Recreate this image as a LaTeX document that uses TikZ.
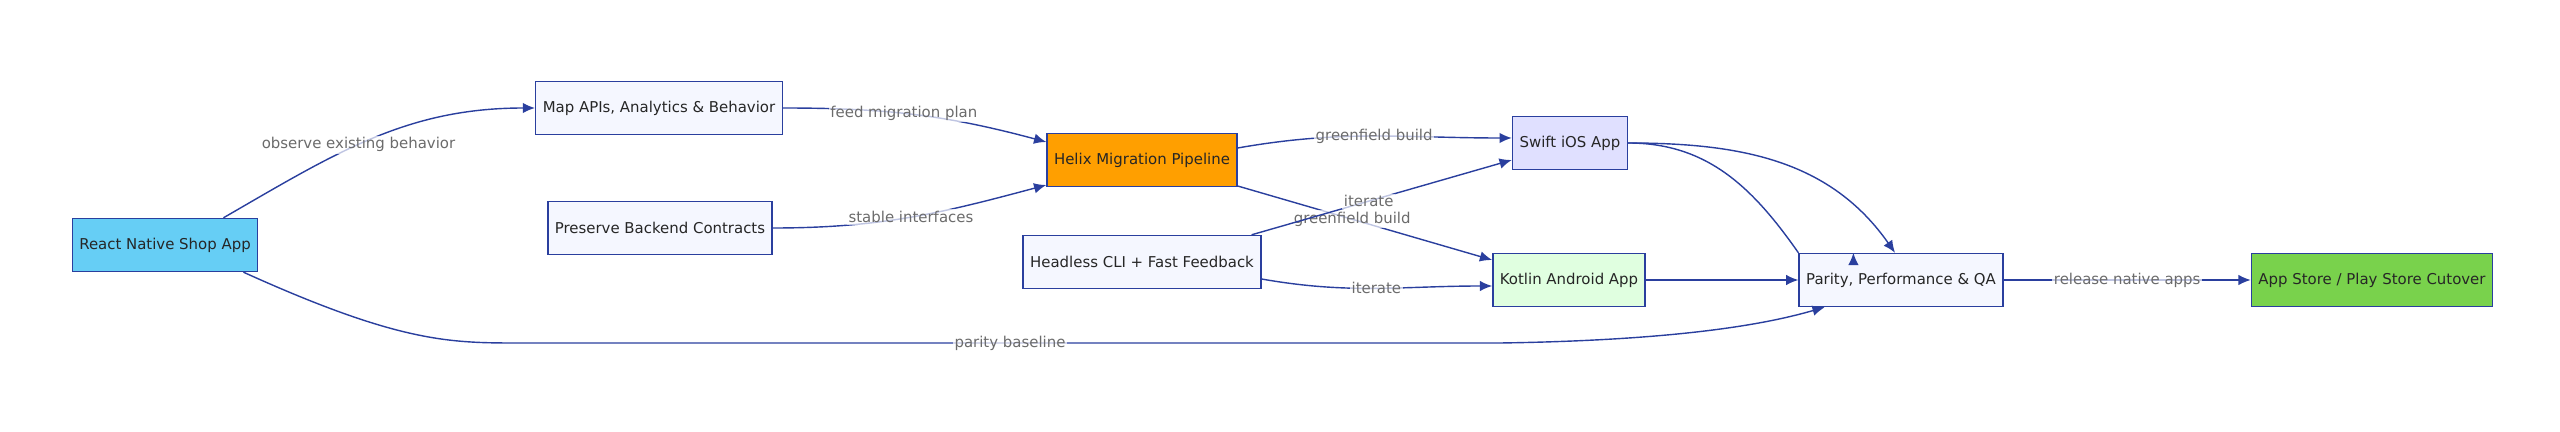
\documentclass[tikz,border=0pt]{standalone}
\usepackage{fontspec}
\setmainfont{DejaVu Sans}
\usetikzlibrary{arrows.meta}
\definecolor{edgeblue}{HTML}{2A3F9E}
\definecolor{boxfill}{HTML}{F5F7FF}
\definecolor{labelgray}{HTML}{6B6B6B}
\begin{document}
\begin{tikzpicture}
[
x=0.02cm, y=-0.02cm,
Step/.style={rectangle, draw=edgeblue, fill=boxfill, thick, minimum height=1.06cm, inner xsep=4pt, font=\fontsize{8.5}{10}\selectfont, text=black!85},
Link/.style={-{Latex[length=7pt,width=6pt]}, draw=edgeblue, thick},
Tag/.style={fill=white, fill opacity=0.7, text opacity=1, inner sep=1pt, text=labelgray, font=\fontsize{8.5}{10}\selectfont},
]
\useasboundingbox (0,0) rectangle (2560,432);

% nodes
\node[Step, fill=cyan!60!white, minimum width=3.3cm] (react) at (165,245) {React Native Shop App};
\node[Step, minimum width=4.26cm] (map) at (659,108) {Map APIs, Analytics \& Behavior};
\node[Step, minimum width=3.96cm] (backend) at (660,228) {Preserve Backend Contracts};
\node[Step, fill=orange!75!yellow, minimum width=3.44cm] (helix) at (1142,160) {Helix Migration Pipeline};
\node[Step, minimum width=4.08cm] (cli) at (1142,262) {Headless CLI + Fast Feedback};
\node[Step, fill=blue!12, minimum width=2.3cm] (swift) at (1570,143) {Swift iOS App};
\node[Step, fill=green!12, minimum width=2.88cm] (kotlin) at (1569,280) {Kotlin Android App};
\node[Step, minimum width=3.66cm] (parity) at (1901,280) {Parity, Performance \& QA};
\node[Step, fill=green!50!olive!70!white, minimum width=4.2cm] (store) at (2372,280) {App Store / Play Store Cutover};

% connectors
\draw[Link] (react.north east) ++(-35,0) to[out=30,in=180] node[Tag, pos=0.45] {observe existing behavior} (map.west);
\draw[Link] (map.east) to[out=0,in=165] node[Tag, pos=0.45] {feed migration plan} (helix.west |- 0,142);
\draw[Link] (backend.east) to[out=0,in=195] node[Tag, pos=0.5] {stable interfaces} (helix.west |- 0,185);
\draw[Link] (helix.east |- 0,148) to[out=10,in=180] node[Tag, pos=0.5] {greenfield build} (swift.west |- 0,138);
\draw[Link] (helix.east |- 0,186) -- node[Tag, pos=0.45] {greenfield build} (kotlin.west |- 0,260);
\draw[Link] (cli.north east) ++(-10,0) -- node[Tag, pos=0.45] {iterate} (swift.west |- 0,160);
\draw[Link] (cli.east |- 0,279) to[out=-10,in=180] node[Tag, pos=0.5] {iterate} (kotlin.west |- 0,286);
\draw[Link] (swift.east) to[out=0,in=125] (parity.north west) ++(55,0);
\draw[Link] (swift.east) to[out=0,in=125] ([xshift=55]parity.north west);
\draw[Link] (kotlin.east) -- (parity.west);
\draw[Link] (parity.east) -- node[Tag] {release native apps} (store.west);
\draw[Link] (react.south east) ++(-15,0) .. controls (400,343) and (450,343) .. (520,343)
  -- node[Tag] {parity baseline} (1500,343) .. controls (1700,340) and (1780,320) .. ([xshift=15]parity.south west);
\end{tikzpicture}
\end{document}
